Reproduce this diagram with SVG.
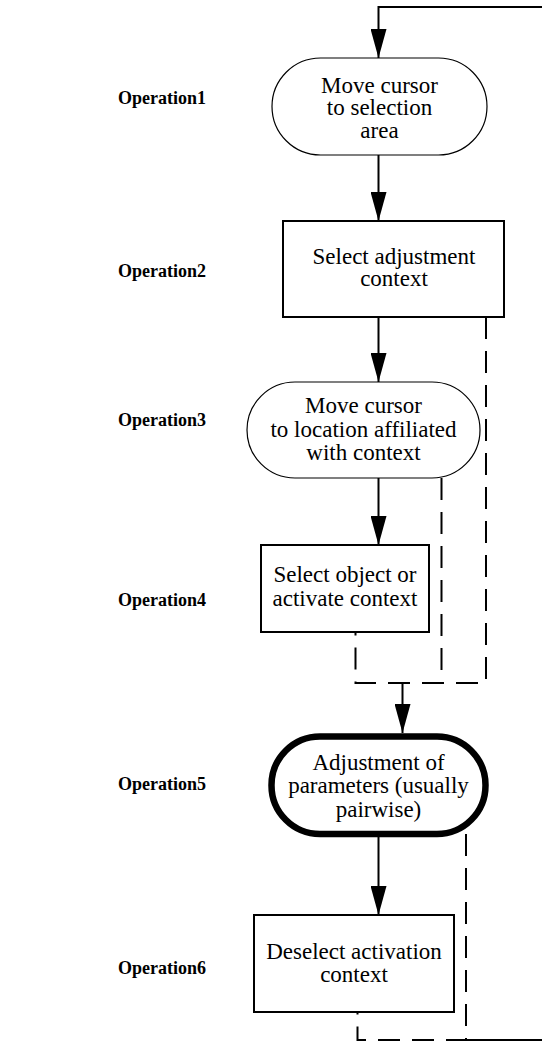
<svg xmlns="http://www.w3.org/2000/svg" width="542" height="1042" viewBox="0 0 542 1042">
<style>
.bg{fill:#fff}
.t{font-family:"Liberation Serif","Times New Roman",serif;font-size:23px;fill:#000;text-anchor:middle}
.lbl{font-family:"Liberation Serif","Times New Roman",serif;font-size:18px;font-weight:bold;fill:#000}
.thin{fill:#fff;stroke:#000;stroke-width:1.2}
.box{fill:#fff;stroke:#000;stroke-width:2}
.thick{fill:#fff;stroke:#000;stroke-width:6.5}
.solid{fill:none;stroke:#000;stroke-width:2}
.dash{fill:none;stroke:#000;stroke-width:2;stroke-dasharray:22 12}
</style>
<defs>
<marker id="ah" markerUnits="userSpaceOnUse" markerWidth="29" markerHeight="16" refX="29" refY="8" orient="auto">
<path d="M0,0 L29,8 L0,16 Z" fill="#000"/>
</marker>
</defs>
<rect class="bg" x="0" y="0" width="542" height="1042"/>
<g id="labels">
<text class="lbl" x="118" y="104">Operation1</text>
<text class="lbl" x="118" y="277">Operation2</text>
<text class="lbl" x="118" y="426">Operation3</text>
<text class="lbl" x="118" y="606">Operation4</text>
<text class="lbl" x="118" y="790">Operation5</text>
<text class="lbl" x="118" y="974">Operation6</text>
</g>
<g id="connectors">
<path class="solid" d="M466,1040 H548 V7 H378.5 V58" marker-end="url(#ah)"/>
<path class="solid" d="M378.5,155 V221" marker-end="url(#ah)"/>
<path class="solid" d="M378.5,317 V382" marker-end="url(#ah)"/>
<path class="solid" d="M378.5,478 V545" marker-end="url(#ah)"/>
<path class="solid" d="M402.5,683 V733" marker-end="url(#ah)"/>
<path class="solid" d="M378.5,837 V915" marker-end="url(#ah)"/>
<path class="dash" d="M486,317 V683 H355.5 V632"/>
<path class="dash" d="M441.5,478 V683"/>
<path class="dash" d="M466,834 V1040 H357.5 V1012"/>
</g>
<g id="node1">
<rect class="thin" x="272" y="58" width="215" height="97" rx="48.5" ry="48.5"/>
<text class="t" x="379.5" y="93">Move cursor</text>
<text class="t" x="379.5" y="115">to selection</text>
<text class="t" x="379.5" y="138">area</text>
</g>
<g id="node2">
<rect class="box" x="283" y="221" width="221" height="96"/>
<text class="t" x="394" y="264">Select adjustment</text>
<text class="t" x="394" y="286">context</text>
</g>
<g id="node3">
<rect class="thin" x="247" y="382" width="233" height="96" rx="48" ry="48"/>
<text class="t" x="363.5" y="413">Move cursor</text>
<text class="t" x="363.5" y="437">to location affiliated</text>
<text class="t" x="363.5" y="460">with context</text>
</g>
<g id="node4">
<rect class="box" x="261" y="545" width="168" height="87"/>
<text class="t" x="345" y="582">Select object or</text>
<text class="t" x="345" y="606">activate context</text>
</g>
<g id="node5">
<rect class="thick" x="271.5" y="736.5" width="214" height="97.5" rx="48.5" ry="48.5"/>
<text class="t" x="378.5" y="770">Adjustment of</text>
<text class="t" x="378.5" y="793">parameters (usually</text>
<text class="t" x="378.5" y="817">pairwise)</text>
</g>
<g id="node6">
<rect class="box" x="254" y="915" width="200" height="97"/>
<text class="t" x="354" y="959">Deselect activation</text>
<text class="t" x="354" y="982">context</text>
</g>
</svg>
